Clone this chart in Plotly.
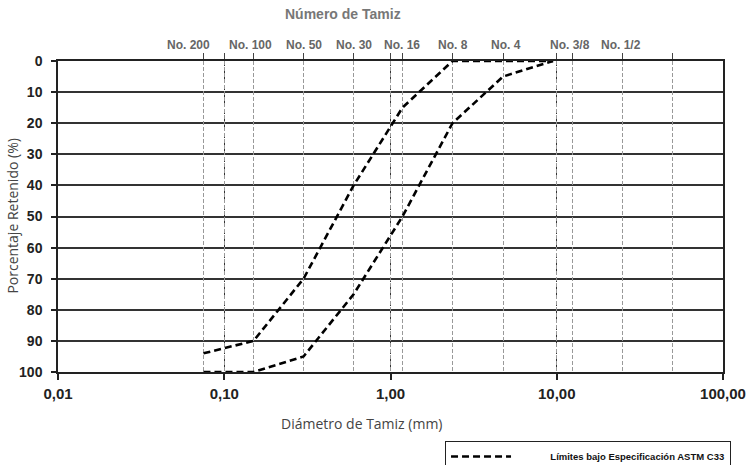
import numpy as np
import plotly.graph_objects as go

# ---- data ----
sieve_sizes_mm = [0.075, 0.15, 0.3, 0.6, 1.18, 2.36, 4.75, 9.5]
retained_fine_limit = [94, 90, 70, 40, 15, 0, 0, 0]
retained_coarse_limit = [100, 100, 95, 75, 50, 20, 5, 0]

decade_ticks = [0.01, 0.1, 1, 10, 100]
decade_labels = ["0,01", "0,10", "1,00", "10,00", "100,00"]
sieve_grid = [0.075, 0.1, 0.15, 0.3, 0.6, 1, 1.18, 2.36, 4.75, 10, 12.5, 25, 50]
top_labels = ["No. 200", "No. 100", "No. 50", "No. 30", "No. 16", "No. 8", "No. 4", "No. 3/8", "No. 1/2"]
top_label_pos = [0.075, 0.15, 0.3, 0.6, 1.18, 2.36, 4.75, 12.5, 25]
top_label_shift = [-15, -3, 0, 0, 0, 0, 3, -3, -2]
y_ticks = list(range(0, 101, 10))

legend_name = "Límites bajo Especificación ASTM C33"

BOLD = "Liberation Sans"
line_style = dict(color="black", width=2.6, dash="7px,4px")

fig = go.Figure()
fig.add_trace(go.Scatter(x=sieve_sizes_mm, y=retained_fine_limit, mode="lines",
                         line=line_style, name="\u00a0" * 13 + legend_name, showlegend=True,
                         hoverinfo="skip"))
fig.add_trace(go.Scatter(x=sieve_sizes_mm, y=retained_coarse_limit, mode="lines",
                         line=line_style, name=legend_name, showlegend=False,
                         xaxis="x2", hoverinfo="skip"))

lo, hi = np.log10(decade_ticks[0]), np.log10(decade_ticks[-1])

fig.update_layout(
    width=751, height=465,
    margin=dict(l=58, r=28, t=61, b=93, autoexpand=False),
    paper_bgcolor="white", plot_bgcolor="white",
    xaxis=dict(type="log", range=[lo, hi], tickvals=decade_ticks, ticktext=decade_labels,
               ticks="outside", ticklen=6, tickwidth=1.5, tickcolor="#222",
               tickfont=dict(family=BOLD, size=15, color="#222", weight="bold"),
               ticklabelstandoff=1,
               showline=True, linecolor="#222", linewidth=1.5, mirror=False,
               showgrid=True, gridcolor="#333", gridwidth=1.4, griddash="5px,3px",
               zeroline=False),
    xaxis2=dict(type="log", range=[lo, hi], overlaying="x", side="top", anchor="y",
                tickvals=sieve_grid, showticklabels=False,
                ticks="outside", ticklen=6, tickwidth=1, tickcolor="#444",
                showline=True, linecolor="#222", linewidth=1.5,
                showgrid=True, gridcolor="#999", gridwidth=1, griddash="4px,2px",
                zeroline=False),
    yaxis=dict(range=[100, 0], tickvals=y_ticks, ticks="outside", ticklen=5,
               tickwidth=1.5, tickcolor="#222",
               tickfont=dict(family=BOLD, size=14, color="#222", weight="bold"),
               ticklabelstandoff=6,
               showline=True, linecolor="#222", linewidth=1.5, mirror=True,
               showgrid=True, gridcolor="#333", gridwidth=1.8, zeroline=False),
    legend=dict(x=0.582, y=-0.222, xanchor="left", yanchor="top",
                bordercolor="#222", borderwidth=1, bgcolor="white",
                itemwidth=60,
                font=dict(family=BOLD, size=9.5, color="#111", weight="bold")),
    showlegend=True,
)

annotations = []
for lab, pos, sh in zip(top_labels, top_label_pos, top_label_shift):
    annotations.append(dict(text=lab, x=np.log10(pos), xref="x", y=1.0514, yref="paper",
                            xanchor="center", yanchor="middle", xshift=sh, showarrow=False,
                            font=dict(family=BOLD, size=12, color="#666", weight="bold")))
annotations.append(dict(text="Número de Tamiz", x=0.4286, xref="paper", y=1.151, yref="paper",
                        xanchor="center", yanchor="middle", showarrow=False,
                        font=dict(family=BOLD, size=14, color="#777", weight="bold")))
annotations.append(dict(text="Diámetro de Tamiz (mm)", x=0.457, xref="paper", y=-0.167,
                        yref="paper", xanchor="center", yanchor="middle", showarrow=False,
                        font=dict(family="Open Sans", size=14, color="#444")))
annotations.append(dict(text="Porcentaje Retenido (%)", x=-0.069, xref="paper", y=0.5,
                        yref="paper", xanchor="center", yanchor="middle", showarrow=False,
                        textangle=-90,
                        font=dict(family="Open Sans", size=14, color="#444")))
fig.update_layout(annotations=annotations)

fig.write_html("out.html", config={"displayModeBar": False},
               post_script="document.body.style.margin='0px';")
